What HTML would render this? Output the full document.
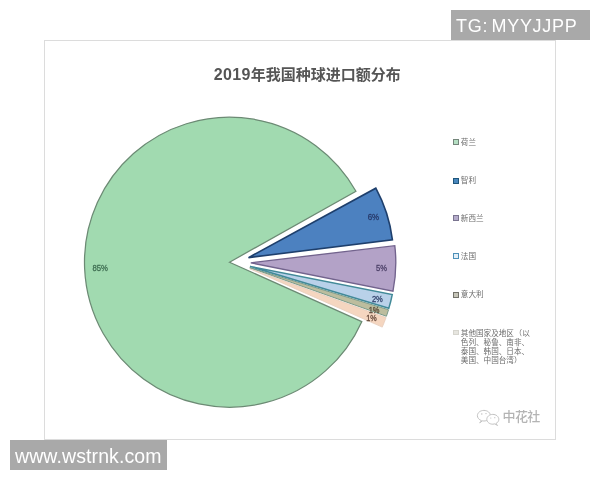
<!DOCTYPE html>
<html lang="zh-CN">
<head>
<meta charset="utf-8">
<title>2019年我国种球进口额分布</title>
<style>
html,body{margin:0;padding:0;background:#fff;}
body{width:600px;height:480px;position:relative;overflow:hidden;font-family:"Liberation Sans","Noto Sans CJK SC",sans-serif;}
.frame{position:absolute;left:44px;top:40px;width:512px;height:400px;box-sizing:border-box;border:1px solid #dcdcdc;}
.title{position:absolute;left:0;top:64px;width:614.6px;text-align:center;font-weight:bold;font-size:15px;line-height:22px;color:#555;white-space:nowrap;}
.title .n{font-size:16px;letter-spacing:0.35px;}
.wm{position:absolute;background:#a9a9a9;color:#fff;white-space:nowrap;}
.wm1{left:451px;top:10px;width:139px;height:30px;font-size:18px;line-height:32px;}
.wm1 span{position:absolute;left:5px;top:0;letter-spacing:0.7px;word-spacing:-2.3px;}
.wm2{left:10px;top:440px;width:157px;height:30px;font-size:19.5px;line-height:32px;}
.wm2 span{position:absolute;left:5px;top:0;letter-spacing:0.1px;}
.lg{position:absolute;left:453px;font-size:7.6px;line-height:9px;color:#6c6c6c;white-space:nowrap;}
.lg i{position:absolute;left:0;top:1.5px;width:6px;height:6px;box-sizing:border-box;border:1.4px solid #777;}
.lg span{position:absolute;left:7.8px;top:0;}
.lg b{font-weight:normal;margin-left:0.6px;}
.logo{position:absolute;left:502.5px;top:408.3px;font-size:13px;letter-spacing:-0.6px;font-weight:500;line-height:18px;color:#b4b4b4;white-space:nowrap;}
svg{position:absolute;left:0;top:0;}
</style>
</head>
<body>
<div class="frame"></div>
<div class="title"><span class="n">2019</span>年我国种球进口额分布</div>
<svg width="600" height="480" viewBox="0 0 600 480">
<g stroke-linejoin="miter">
<path d="M229.50,262.20 L355.95,191.24 A145.00,145.00 0 1 0 361.76,321.64 Z" fill="#a1dab0" stroke="#6c8a74" stroke-width="1.25"/>
<path d="M249.60,268.60 L386.07,317.60 A145.00,145.00 0 0 1 382.27,327.11 Z" fill="#f5d6c0" stroke="#e6ccba" stroke-width="0.8"/>
<path d="M249.80,267.60 L388.54,309.75 A145.00,145.00 0 0 1 386.40,316.24 Z" fill="#bcbd9e" stroke="#7a9a88" stroke-width="1"/>
<path d="M250.00,266.40 L392.24,294.56 A145.00,145.00 0 0 1 388.81,308.31 Z" fill="#b9d1e9" stroke="#428a98" stroke-width="1.5"/>
<path d="M250.80,262.80 L394.78,245.63 A145.00,145.00 0 0 1 392.99,291.21 Z" fill="#b3a2c7" stroke="#72638d" stroke-width="1.35"/>
<path d="M248.50,257.60 L375.81,188.19 A145.00,145.00 0 0 1 392.39,239.68 Z" fill="#4c81c0" stroke="#1e3f6c" stroke-width="1.6"/>
</g>
<g font-family="'Liberation Sans',sans-serif" font-size="9" stroke-width="0.3" paint-order="stroke">
<text x="92.5" y="271" textLength="15.5" lengthAdjust="spacingAndGlyphs" fill="#3f6e52" stroke="#3f6e52">85%</text>
<text x="367.7" y="219.6" textLength="11.5" lengthAdjust="spacingAndGlyphs" fill="#27396a" stroke="#27396a">6%</text>
<text x="376" y="270.8" textLength="11" lengthAdjust="spacingAndGlyphs" fill="#4d4169" stroke="#4d4169">5%</text>
<text x="371.9" y="302.3" textLength="11" lengthAdjust="spacingAndGlyphs" fill="#35466f" stroke="#35466f">2%</text>
<text x="368.7" y="313.1" textLength="10.8" lengthAdjust="spacingAndGlyphs" fill="#5a4a38" stroke="#5a4a38">1%</text>
<text x="366.2" y="320.8" textLength="10.5" lengthAdjust="spacingAndGlyphs" fill="#66493a" stroke="#66493a">1%</text>
</g>
<g fill="#fff" stroke="#c2c2c2" stroke-width="1" stroke-linecap="round" stroke-linejoin="round">
<path d="M481.3,420.6 C478.9,419.6 477.4,417.8 477.4,415.7 C477.4,412.7 480.3,410.4 483.9,410.4 C487.5,410.4 490.4,412.7 490.4,415.7 C490.4,418.7 487.5,421 483.9,421 C483.4,421 482.9,421 482.4,420.9 L480,422.6 Z"/>
<path d="M496.300,423.400 C497.800,422.500 498.800,421 498.800,419.300 C498.800,416.600 496.100,414.400 492.800,414.400 C489.500,414.400 486.800,416.600 486.800,419.300 C486.800,422 489.500,424.200 492.800,424.200 C493.500,424.200 494.200,424.100 494.800,423.900 L497.200,425.300 Z"/>
</g>
<g fill="#bdbdbd">
<circle cx="481.8" cy="414" r="0.7"/><circle cx="486" cy="413.6" r="0.7"/>
<circle cx="490.8" cy="418" r="0.6"/><circle cx="494.800" cy="417.700" r="0.6"/>
</g>
</svg>
<div class="wm wm1"><span>TG: MYYJJPP</span></div>
<div class="wm wm2"><span>www.wstrnk.com</span></div>
<div class="lg" style="top:137.7px"><i style="background:#b5dfc3;border-color:#74867b"></i><span>荷兰</span></div>
<div class="lg" style="top:176.1px"><i style="background:#4987bd;border-color:#1f567c"></i><span>智利</span></div>
<div class="lg" style="top:213.7px"><i style="background:#b5accb;border-color:#7a7490"></i><span>新西兰</span></div>
<div class="lg" style="top:251.8px"><i style="background:#e4f0f8;border-color:#4d90b8"></i><span>法国</span></div>
<div class="lg" style="top:290.1px"><i style="background:#c6c5b8;border-color:#73726a"></i><span>意大利</span></div>
<div class="lg" style="top:328.7px"><i style="background:#e6e5df;border:1px solid #d6d5ce;width:5.5px;height:5.5px;top:1.3px"></i><span>其他国家及地区<b>（</b>以<br>色列、秘鲁、南非、<br>泰国、韩国、日本、<br>美国、中国台湾）</span></div>
<div class="logo">中花社</div>
</body>
</html>
